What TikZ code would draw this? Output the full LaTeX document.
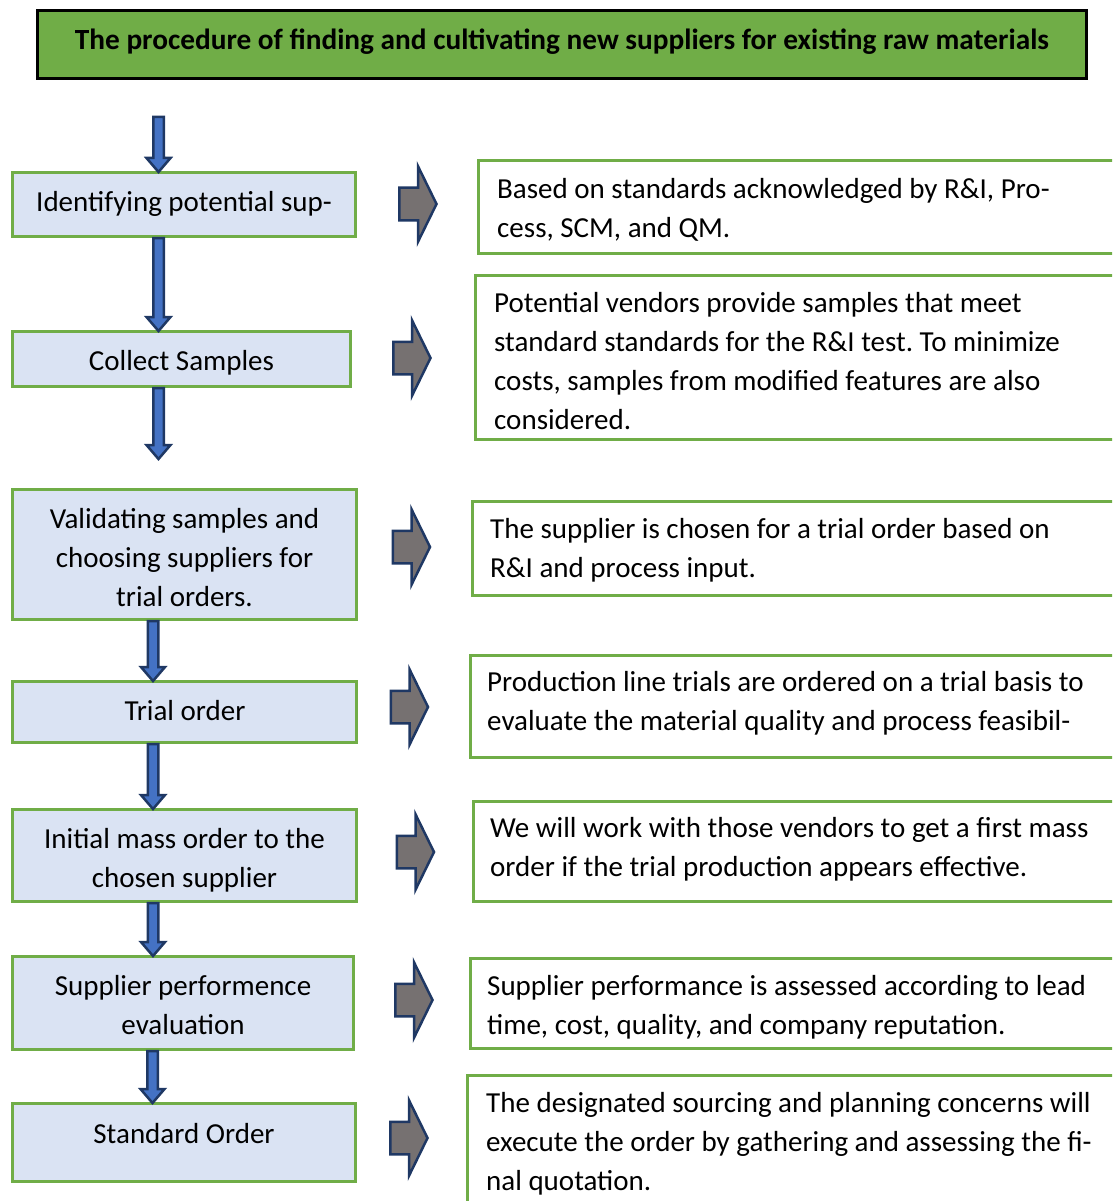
\documentclass[tikz,border=0pt]{standalone}
\usepackage{fontspec}
\setmainfont{Carlito}
\usetikzlibrary{calc}
\definecolor{leaf}{HTML}{70AD47}
\definecolor{paleblue}{HTML}{DAE3F3}
\definecolor{navy}{HTML}{1F3864}
\definecolor{flowblue}{HTML}{4472C4}
\definecolor{slate}{HTML}{767171}
\newcommand\bodyfont{\fontsize{29}{39}\selectfont}
% vertical outlined arrow: x position, start point, end point
\newcommand\flowdown[3]{%
  \filldraw[downarrow] let \p1=(#2), \p2=(#3) in
    (#1pt-5.25pt,\y1) -- (#1pt+5.25pt,\y1) -- (#1pt+5.25pt,\y2+13pt)
    -- (#1pt+12pt,\y2+13pt) -- (#1pt,\y2-1pt) -- (#1pt-12pt,\y2+13pt)
    -- (#1pt-5.25pt,\y2+13pt) -- cycle;}
\frenchspacing
\begin{document}
\begin{tikzpicture}[x=1pt,y=1pt,
  headbox/.style={draw=black, fill=leaf, line width=3pt, inner sep=0pt},
  stepbox/.style={draw=leaf, fill=paleblue, line width=3pt, inner sep=0pt},
  notebox/.style={draw=leaf, fill=white, line width=3pt, inner sep=0pt,
    anchor=north west, minimum width=660pt},
  steptext/.style={inner sep=0pt, anchor=north, align=center, font=\bodyfont},
  notetext/.style={inner sep=0pt, anchor=north west, align=left, font=\bodyfont},
  downarrow/.style={draw=navy, fill=flowblue, line width=2.5pt, line join=miter},
  sidearrow/.pic={\filldraw[draw=navy, fill=slate, line width=2.5pt, line join=miter]
    (-19.25,-16.25) -- (-0.5,-16.25) -- (-0.5,-37.75) -- (18,0)
    -- (-0.5,37.75) -- (-0.5,16.25) -- (-19.25,16.25) -- cycle;}
]
\useasboundingbox (0,0) rectangle (1112,-1201);
\clip (0,0) rectangle (1112,-1201);

% heading
\node[headbox, minimum width=1049pt, minimum height=68pt] (head) at (562,-44.5) {};
\node[inner sep=0pt, anchor=base, font=\bfseries\fontsize{29.3}{34}\selectfont] (headtext) at (562,-49.5)
  {The procedure of finding and cultivating new suppliers for existing raw materials};

% process steps
\node[stepbox, minimum width=343pt, minimum height=64pt]  (b1) at (184,-204.5) {};
\node[stepbox, minimum width=338pt, minimum height=55pt]  (b2) at (181.5,-359) {};
\node[stepbox, minimum width=344pt, minimum height=130pt] (b3) at (184.5,-554.5) {};
\node[stepbox, minimum width=344pt, minimum height=61pt]  (b4) at (184.5,-712) {};
\node[stepbox, minimum width=344pt, minimum height=92pt]  (b5) at (184.5,-855.5) {};
\node[stepbox, minimum width=341pt, minimum height=93pt]  (b6) at (183,-1003) {};
\node[stepbox, minimum width=343pt, minimum height=78pt]  (b7) at (184,-1142.5) {};

\node[steptext] (t1) at (184,-183.7)   {\strut Identifying potential sup-};
\node[steptext] (t2) at (181.5,-342.7) {\strut Collect Samples};
\node[steptext] (t3) at (184.5,-500.7) {\strut Validating samples and\\choosing suppliers for\\trial orders.};
\node[steptext] (t4) at (185,-692.7)   {\strut Trial order};
\node[steptext] (t5) at (184.5,-820.7) {\strut Initial mass order to the\\chosen supplier};
\node[steptext] (t6) at (183,-967.7)   {\strut Supplier performence\\evaluation};
\node[steptext] (t7) at (184,-1115.7)  {\strut Standard Order};

% notes beside each step
\node[notebox, minimum height=92pt]  (r1) at (476.5,-159.5) {};
\node[notebox, minimum height=164pt] (r2) at (473.5,-273.5) {};
\node[notebox, minimum height=94pt]  (r3) at (470.5,-499.5) {};
\node[notebox, minimum height=102pt] (r4) at (468.5,-653.5) {};
\node[notebox, minimum height=100pt] (r5) at (471.5,-799.5) {};
\node[notebox, minimum height=90pt]  (r6) at (468.5,-956.5) {};
\node[notebox, minimum height=160pt] (r7) at (465.5,-1073.5) {};

\node[notetext] (n1) at (497,-170.7)  {\strut Based on standards acknowledged by R\&I, Pro-\\cess, SCM, and QM.};
\node[notetext] (n2) at (494,-284.7)  {\strut Potential vendors provide samples that meet\\standard standards for the R\&I test. To minimize\\costs, samples from modified features are also\\considered.};
\node[notetext] (n3) at (490,-510.7)  {\strut The supplier is chosen for a trial order based on\\R\&I and process input.};
\node[notetext] (n4) at (487,-663.7)  {\strut Production line trials are ordered on a trial basis to\\evaluate the material quality and process feasibil-};
\node[notetext] (n5) at (490,-809.7)  {\strut We will work with those vendors to get a first mass\\order if the trial production appears effective.};
\node[notetext] (n6) at (487,-967.7)  {\strut Supplier performance is assessed according to lead\\time, cost, quality, and company reputation.};
\node[notetext] (n7) at (486,-1084.7) {\strut The designated sourcing and planning concerns will\\execute the order by gathering and assessing the fi-\\nal quotation.};

% flow between steps
\coordinate (entry) at (158.5,-117);
\coordinate (gap) at (158.5,-458);
\flowdown{158.5}{entry}{b1.north}
\flowdown{158.5}{b1.south}{b2.north}
\flowdown{158.5}{b2.south}{gap}
\flowdown{153}{b3.south}{b4.north}
\flowdown{153}{b4.south}{b5.north}
\flowdown{153}{b5.south}{b6.north}
\flowdown{152.5}{b6.south}{b7.north}

% arrows pointing to the notes
\pic at (418.5,-204) {sidearrow};
\pic at (412.5,-358) {sidearrow};
\pic at (412,-547) {sidearrow};
\pic at (410,-707) {sidearrow};
\pic at (416,-852) {sidearrow};
\pic at (414.5,-1000) {sidearrow};
\pic at (409.5,-1138) {sidearrow};
\end{tikzpicture}
\end{document}
